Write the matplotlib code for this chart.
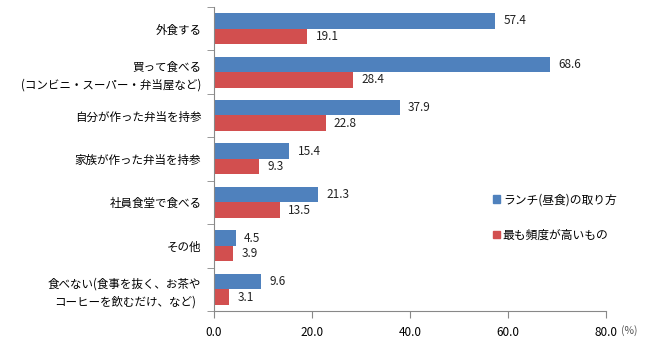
import matplotlib.pyplot as plt
import numpy as np
from matplotlib.patches import Patch

plt.rcParams['font.family'] = ['Noto Sans CJK JP', 'DejaVu Sans']

categories = ['外食する',
              '買って食べる\n(コンビニ・スーパー・弁当屋など)',
              '自分が作った弁当を持参',
              '家族が作った弁当を持参',
              '社員食堂で食べる',
              'その他',
              '食べない(食事を抜く、お茶や\nコーヒーを飲むだけ、など)']
lunch_style = [57.4, 68.6, 37.9, 15.4, 21.3, 4.5, 9.6]
most_frequent = [19.1, 28.4, 22.8, 9.3, 13.5, 3.9, 3.1]
series_names = ['ランチ(昼食)の取り方', '最も頻度が高いもの']
xticks = [0, 20, 40, 60, 80]

blue = '#4F81BD'
red = '#D24F4F'

fig = plt.figure(figsize=(6.5, 3.44), dpi=100)
ax = fig.add_axes([0.329, 0.096, 0.603, 0.884])

y = np.arange(len(categories))
h = 0.357
ax.barh(y - h / 2, lunch_style, height=h, color=blue)
ax.barh(y + h / 2, most_frequent, height=h, color=red)

for yi, v in zip(y, lunch_style):
    ax.annotate(f'{v:.1f}', (v, yi - h / 2), xytext=(6, 0), textcoords='offset points',
                va='center', ha='left', fontsize=8.5, color='#222222')
for yi, v in zip(y, most_frequent):
    ax.annotate(f'{v:.1f}', (v, yi + h / 2), xytext=(6, 0), textcoords='offset points',
                va='center', ha='left', fontsize=8.5, color='#222222')

ax.set_xlim(0, 80)
ax.set_ylim(len(categories) - 0.5, -0.5)
ax.set_xticks(xticks)
ax.set_xticklabels([f'{t:.1f}' for t in xticks], fontsize=8.5)

# category labels centered, tick marks on the group boundaries
ax.set_yticks(y)
ax.set_yticklabels(categories, fontsize=8.3, linespacing=1.5)
ax.get_yticklabels()[-1].set_multialignment('center')
ax.set_yticks(np.arange(len(categories) + 1) - 0.5, minor=True)
ax.tick_params(axis='y', which='major', length=0, pad=9)
ax.tick_params(axis='y', which='minor', length=5, color='#888888')
ax.tick_params(axis='x', length=5, color='#888888', pad=6)

for s in ['top', 'right']:
    ax.spines[s].set_visible(False)
for s in ['left', 'bottom']:
    ax.spines[s].set_color('#888888')

fig.text(0.955, 0.040, '(%)', fontsize=7.5, color='#555555', va='center')

handles = [Patch(color=blue), Patch(color=red)]
fig.legend(handles, series_names, loc='upper left', bbox_to_anchor=(0.75, 0.455),
           frameon=False, fontsize=8.5, handlelength=0.6, handleheight=0.6,
           handletextpad=0.2, labelspacing=1.9, borderpad=0)

fig.savefig('out.png', dpi=100)
